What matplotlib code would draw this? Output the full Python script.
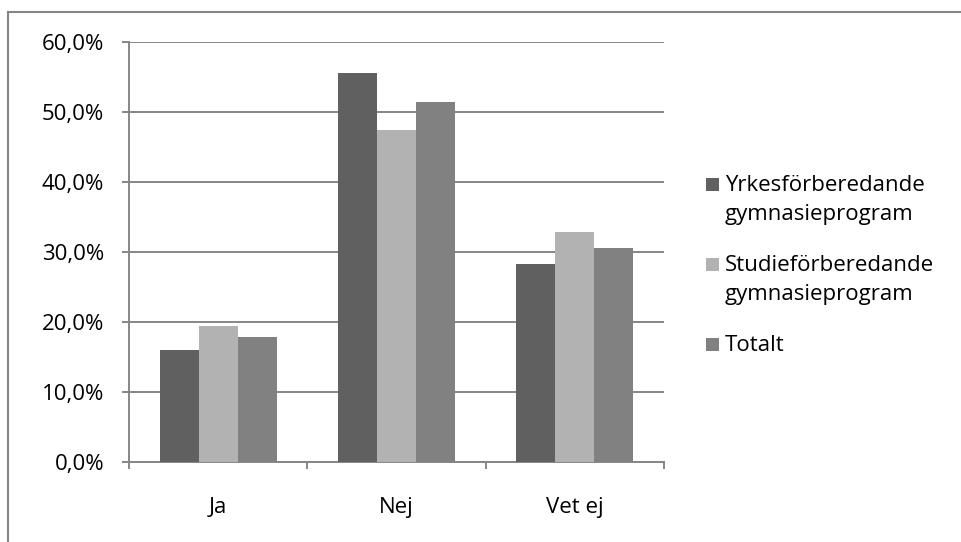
import matplotlib
matplotlib.use("Agg")
import matplotlib.pyplot as plt
from matplotlib.patches import Rectangle
from matplotlib.lines import Line2D
from matplotlib.ticker import FuncFormatter
import numpy as np

categories = ["Ja", "Nej", "Vet ej"]
series_names = ["Yrkesförberedande\ngymnasieprogram",
                "Studieförberedande\ngymnasieprogram",
                "Totalt"]
yrkes = [16.0, 55.6, 28.3]
studie = [19.5, 47.5, 32.9]
totalt = [17.8, 51.5, 30.6]
colors = ["#606060", "#b2b2b2", "#818181"]
yticks = [0, 10, 20, 30, 40, 50, 60]

plt.rcParams['font.family'] = ['Open Sans', 'DejaVu Sans']
FS = 16
W, H = 961, 542
fig = plt.figure(figsize=(W/100, H/100), dpi=100)
fig.patch.set_facecolor("white")

# outer border (only top and left visible)
fig.add_artist(Line2D([8/W, 1.0], [1 - 12/H, 1 - 12/H], transform=fig.transFigure,
                      color="#868686", linewidth=1.5))
fig.add_artist(Line2D([8/W, 8/W], [1 - 12/H, 0.0], transform=fig.transFigure,
                      color="#868686", linewidth=1.5))

ax = fig.add_axes([129/W, 1 - 462/H, 535/W, 420/H])
x = np.arange(len(categories))
bw = 0.219
for i, (vals, c, name) in enumerate(zip([yrkes, studie, totalt], colors, series_names)):
    ax.bar(x + (i - 1) * bw, vals, width=bw, color=c, label=name, zorder=3,
           linewidth=0)

ax.set_xlim(-0.5, len(categories) - 0.5)
ax.set_ylim(0, 60)
ax.set_yticks(yticks)
ax.yaxis.set_major_formatter(FuncFormatter(lambda v, p: f"{v:.1f}%".replace(".", ",")))
ax.grid(axis="y", color="#868686", linewidth=1.4, zorder=0)
ax.set_axisbelow(True)
for s in ["top", "right"]:
    ax.spines[s].set_visible(False)
for s in ["left", "bottom"]:
    ax.spines[s].set_color("#868686")
    ax.spines[s].set_linewidth(1.4)

ax.set_xticks(x)
ax.set_xticklabels(categories)
ax.tick_params(axis="x", length=0, pad=25, labelsize=FS, colors="black")
ax.set_xticks(np.arange(-0.5, len(categories)), minor=True)
ax.tick_params(axis="x", which="minor", length=5, width=1.4, color="#868686", direction="out")
ax.tick_params(axis="y", length=5, width=1.4, color="#868686", labelsize=FS, pad=13)

# legend (manual, Excel style: square aligned with first line)
line_h = 29
entry_gap = 51
y_base = 191
for c, name in zip(colors, series_names):
    lines = name.split("\n")
    fig.add_artist(Rectangle((706/W, 1 - y_base/H), 13/W, 13/H,
                             transform=fig.transFigure, facecolor=c, edgecolor="none"))
    for j, ln in enumerate(lines):
        fig.text(725/W, 1 - (y_base + j*line_h)/H, ln, fontsize=FS,
                 ha="left", va="baseline")
    y_base += (len(lines) - 1)*line_h + entry_gap

fig.savefig("out.png", dpi=100)
